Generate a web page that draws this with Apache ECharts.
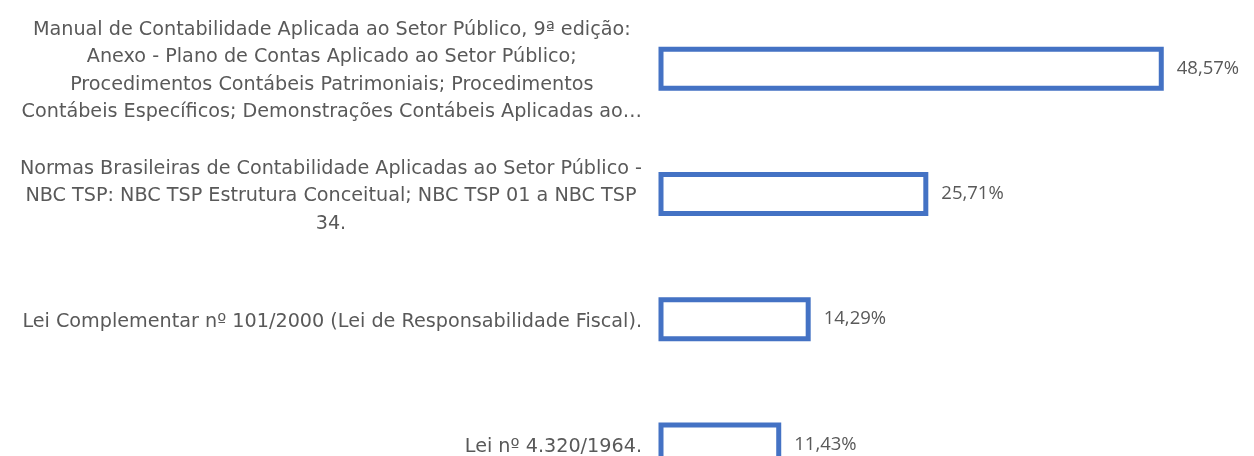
<!DOCTYPE html>
<html>
<head>
<meta charset="utf-8">
<script src="https://cdn.jsdelivr.net/npm/echarts@6/dist/echarts.min.js"></script>
<style>
  html, body { margin: 0; padding: 0; background: #fff; }
  #barchart { width: 1254px; height: 456px; }
</style>
</head>
<body>
<div id="barchart"></div>
<script>
const categories = [
  'Manual de Contabilidade Aplicada ao Setor Público, 9ª edição:\nAnexo - Plano de Contas Aplicado ao Setor Público;\nProcedimentos Contábeis Patrimoniais; Procedimentos\nContábeis Específicos; Demonstrações Contábeis Aplicadas ao…',
  'Normas Brasileiras de Contabilidade Aplicadas ao Setor Público -\nNBC TSP: NBC TSP Estrutura Conceitual; NBC TSP 01 a NBC TSP\n34.',
  'Lei Complementar nº 101/2000 (Lei de Responsabilidade Fiscal).',
  'Lei nº 4.320/1964.'
];
const shares = [48.57, 25.71, 14.29, 11.43];

const textColor = '#595959';

const barChart = document.getElementById('barchart');
const barChartshow = echarts.init(barChart);

// custom bars so the 5px border sits centred on the bar edge, like the original
function renderBar(params, api) {
  const v = api.value(0);
  const idx = api.value(1);
  const start = api.coord([0, idx]);
  const end = api.coord([v, idx]);
  const h = 39;
  return {
    type: 'rect',
    shape: { x: start[0], y: start[1] - h / 2, width: end[0] - start[0], height: h },
    style: { fill: '#ffffff', stroke: '#4472C4', lineWidth: 5 },
    textContent: {
      style: {
        text: v.toFixed(2).replace('.', ',') + '%',
        fill: textColor,
        fontFamily: 'Open Sans',
        fontSize: 18.5
      }
    },
    textConfig: { position: 'right', distance: 13 }
  };
}

const barOption = {
  animation: false,
  grid: {
    left: 661,
    right: 26.5,
    top: 6,
    bottom: -51,
    containLabel: false,
    outerBoundsMode: 'none'
  },
  xAxis: {
    type: 'value',
    min: 0,
    max: 55,
    show: false
  },
  yAxis: {
    type: 'category',
    inverse: true,
    data: categories,
    axisLine: { show: false },
    axisTick: { show: false },
    axisLabel: {
      margin: 19,
      align: 'right',
      padding: [5, 0, 0, 0],
      formatter: function (value) {
        return value.split('\n').map(function (line) {
          return '{c|' + line + '}';
        }).join('\n');
      },
      rich: {
        c: {
          align: 'center',
          fontFamily: 'DejaVu Sans',
          fontSize: 19.2,
          lineHeight: 27.5,
          color: textColor
        }
      }
    }
  },
  series: [
    {
      type: 'custom',
      renderItem: renderBar,
      encode: { x: 0, y: 1 },
      data: shares.map(function (v, i) { return [v, i]; })
    }
  ]
};

barOption && barChartshow.setOption(barOption);
</script>
</body>
</html>
